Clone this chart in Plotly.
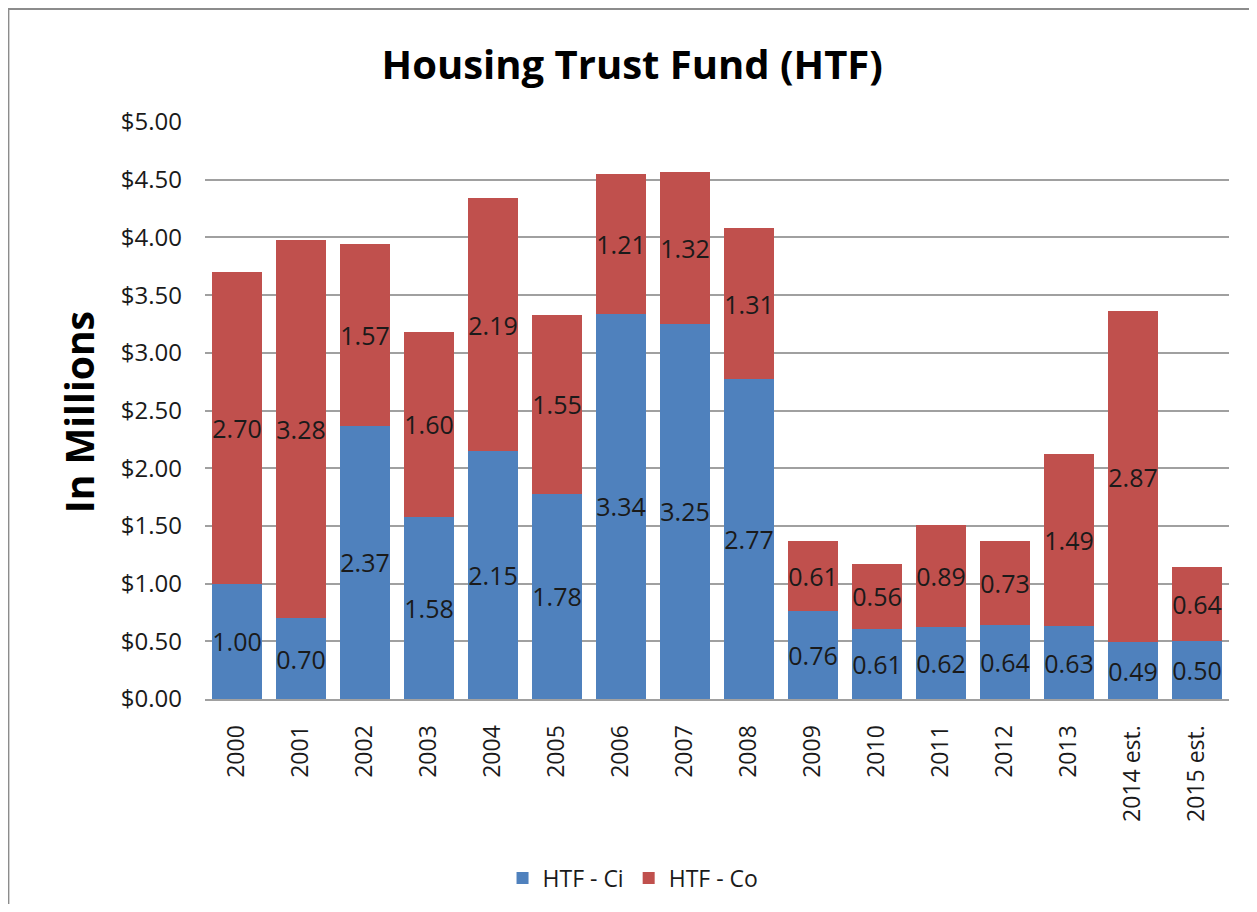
"""Housing Trust Fund (HTF) - stacked bar chart."""

import plotly.graph_objects as go

years = ["2000", "2001", "2002", "2003", "2004", "2005", "2006", "2007",
         "2008", "2009", "2010", "2011", "2012", "2013", "2014 est.", "2015 est."]
htf_ci = [1.00, 0.70, 2.37, 1.58, 2.15, 1.78, 3.34, 3.25,
          2.77, 0.76, 0.61, 0.62, 0.64, 0.63, 0.49, 0.50]
htf_co = [2.70, 3.28, 1.57, 1.60, 2.19, 1.55, 1.21, 1.32,
          1.31, 0.61, 0.56, 0.89, 0.73, 1.49, 2.87, 0.64]
y_ticks = [0.0, 0.5, 1.0, 1.5, 2.0, 2.5, 3.0, 3.5, 4.0, 4.5, 5.0]

FONT = "Open Sans"
TEXT = "#1a1a1a"

fig = go.Figure()
for name, vals, color in [("HTF - Ci", htf_ci, "#4f81bd"), ("HTF - Co", htf_co, "#c0504d")]:
    fig.add_trace(go.Bar(
        x=years, y=vals, name=name,
        marker=dict(color=color, line=dict(width=0)),
        texttemplate="%{y:.2f}", textposition="inside", textangle=0,
        insidetextanchor="middle", constraintext="none",
        textfont=dict(family=FONT, size=25, color=TEXT),
        hoverinfo="x+y+name",
    ))

# page body has an 8px margin, so the figure is sized/offset to fit the window
fig.update_layout(
    width=1241, height=896,
    barmode="stack", bargap=0.21,
    paper_bgcolor="white", plot_bgcolor="white",
    margin=dict(l=197, r=20, t=114, b=205, autoexpand=False),
    font=dict(family=FONT, color=TEXT),
    title=dict(
        text="<b>Housing Trust Fund (HTF)</b>",
        x=0.503, xanchor="center", y=1 - 57 / 896, yanchor="middle",
        font=dict(family=FONT, size=40, color="black"),
    ),
    xaxis=dict(
        tickangle=-90, tickfont=dict(family=FONT, size=23, color=TEXT),
        showline=True, linecolor="#a0a0a0", linewidth=2,
        ticks="", ticklabelstandoff=15,
    ),
    yaxis=dict(
        range=[0, 5.0], tickvals=y_ticks, tickformat="$.2f",
        tickfont=dict(family=FONT, size=24, color=TEXT),
        showgrid=True, gridcolor="#a0a0a0", gridwidth=1.5,
        zeroline=False, ticks="", ticklabelstandoff=22,
    ),
    legend=dict(
        orientation="h", x=0.418, xanchor="center",
        yref="container", y=(896 - 870) / 896, yanchor="middle",
        traceorder="normal",
        font=dict(family=FONT, size=23, color=TEXT),
    ),
    annotations=[dict(
        text="<b>In Millions</b>", textangle=-90,
        xref="paper", yref="paper", x=-0.124, y=0.497,
        xanchor="center", yanchor="middle", showarrow=False,
        font=dict(family=FONT, size=39, color="black"),
    )],
    shapes=[dict(
        type="rect", xref="paper", yref="paper",
        x0=-0.192, x1=1.023, y0=-0.38, y1=1.196,
        line=dict(color="#8c8c8c", width=2), layer="below",
    )],
)

fig.write_html("out.html")
